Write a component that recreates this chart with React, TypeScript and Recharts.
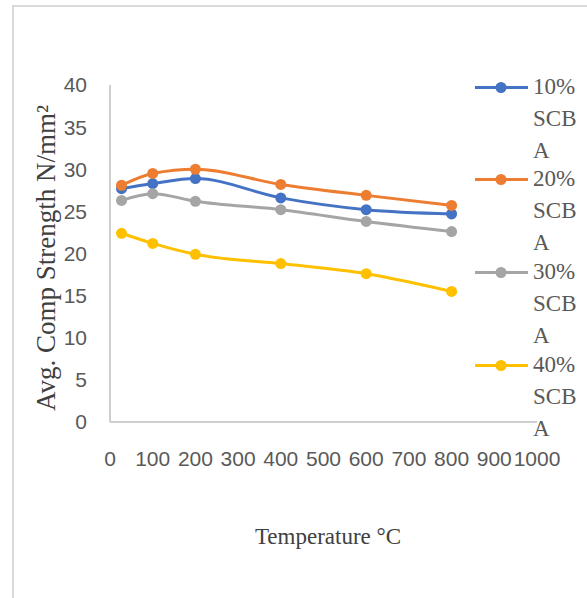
import { LineChart, Line, XAxis, YAxis } from "recharts";

// values
const temps = [27, 100, 200, 400, 600, 800];
const scba10 = [27.7, 28.3, 28.9, 26.6, 25.2, 24.7];
const scba20 = [28.1, 29.5, 30.0, 28.2, 26.9, 25.7];
const scba30 = [26.3, 27.1, 26.2, 25.2, 23.8, 22.6];
const scba40 = [22.4, 21.2, 19.9, 18.8, 17.6, 15.5];

const xTicks = [0, 100, 200, 300, 400, 500, 600, 700, 800, 900, 1000];
const yTicks = [0, 5, 10, 15, 20, 25, 30, 35, 40];

const seriesNames = ["10% SCBA", "20% SCBA", "30% SCBA", "40% SCBA"];
const seriesKeys = ["s10", "s20", "s30", "s40"];
const seriesColors = ["#4472C4", "#ED7D31", "#A5A5A5", "#FFC000"];

const data = temps.map((t, i) => ({
  t,
  s10: scba10[i],
  s20: scba20[i],
  s30: scba30[i],
  s40: scba40[i],
}));

const tickStyle = { fontSize: 21, fill: "#595959", fontFamily: "Liberation Sans, Arial, sans-serif" };
const serif = "Liberation Serif, 'Times New Roman', serif";

function ChartLegend() {
  return (
    <>
      {seriesNames.map((name, i) => (
        <div
          key={name}
          style={{
            position: "absolute",
            left: 474,
            top: 70.5 + i * 92.7,
            height: 93,
            display: "flex",
            alignItems: "flex-start",
          }}
        >
          <svg width={56} height={33} style={{ flex: "none" }}>
            <line x1={1} y1={16.5} x2={54} y2={16.5} stroke={seriesColors[i]} strokeWidth={3} />
            <circle cx={27} cy={16.5} r={5.5} fill={seriesColors[i]} />
          </svg>
          <div
            style={{
              marginLeft: 3,
              width: 47,
              fontFamily: serif,
              fontSize: 23,
              lineHeight: "32px",
              color: "#595959",
              wordBreak: "break-all",
            }}
          >
            {name}
          </div>
        </div>
      ))}
    </>
  );
}

export default function App() {
  return (
    <div
      style={{
        position: "fixed",
        top: 0,
        left: 0,
        width: 587,
        height: 598,
        overflow: "hidden",
        background: "#fff",
      }}
    >
      <div
        style={{
          position: "absolute",
          left: 12,
          top: 5,
          width: 620,
          height: 640,
          border: "2px solid #d9d9d9",
          boxSizing: "border-box",
        }}
      />
      <div style={{ position: "absolute", left: 0, top: 0 }}>
        <LineChart width={587} height={598} data={data} margin={{ top: 85, right: 50, bottom: 0, left: 0 }}>
          <XAxis
            dataKey="t"
            type="number"
            domain={[0, 1000]}
            ticks={xTicks}
            interval={0}
            height={176}
            tickLine={false}
            tickMargin={23}
            axisLine={{ stroke: "#bfbfbf", strokeWidth: 1.5 }}
            tick={tickStyle}
          />
          <YAxis
            type="number"
            domain={[0, 40]}
            ticks={yTicks}
            interval={0}
            width={110}
            tickLine={false}
            tickMargin={17}
            axisLine={{ stroke: "#bfbfbf", strokeWidth: 1.5 }}
            tick={tickStyle}
          />
          {seriesKeys.map((k, i) => (
            <Line
              key={k}
              type="monotone"
              dataKey={k}
              name={seriesNames[i]}
              stroke={seriesColors[i]}
              strokeWidth={3}
              dot={{ r: 5.5, fill: seriesColors[i], stroke: seriesColors[i], strokeWidth: 0 }}
              isAnimationActive={false}
            />
          ))}
        </LineChart>
      </div>
      <div
        style={{
          position: "absolute",
          left: 228,
          top: 523,
          width: 200,
          textAlign: "center",
          fontFamily: serif,
          fontSize: 23,
          lineHeight: "28px",
          color: "#404040",
        }}
      >
        Temperature °C
      </div>
      <div
        style={{
          position: "absolute",
          left: 46 - 180,
          top: 258 - 16,
          width: 360,
          height: 32,
          lineHeight: "32px",
          textAlign: "center",
          transform: "rotate(-90deg)",
          fontFamily: serif,
          fontSize: 27,
          color: "#404040",
          whiteSpace: "nowrap",
        }}
      >
        Avg. Comp Strength N/mm²
      </div>
      <ChartLegend />
    </div>
  );
}
